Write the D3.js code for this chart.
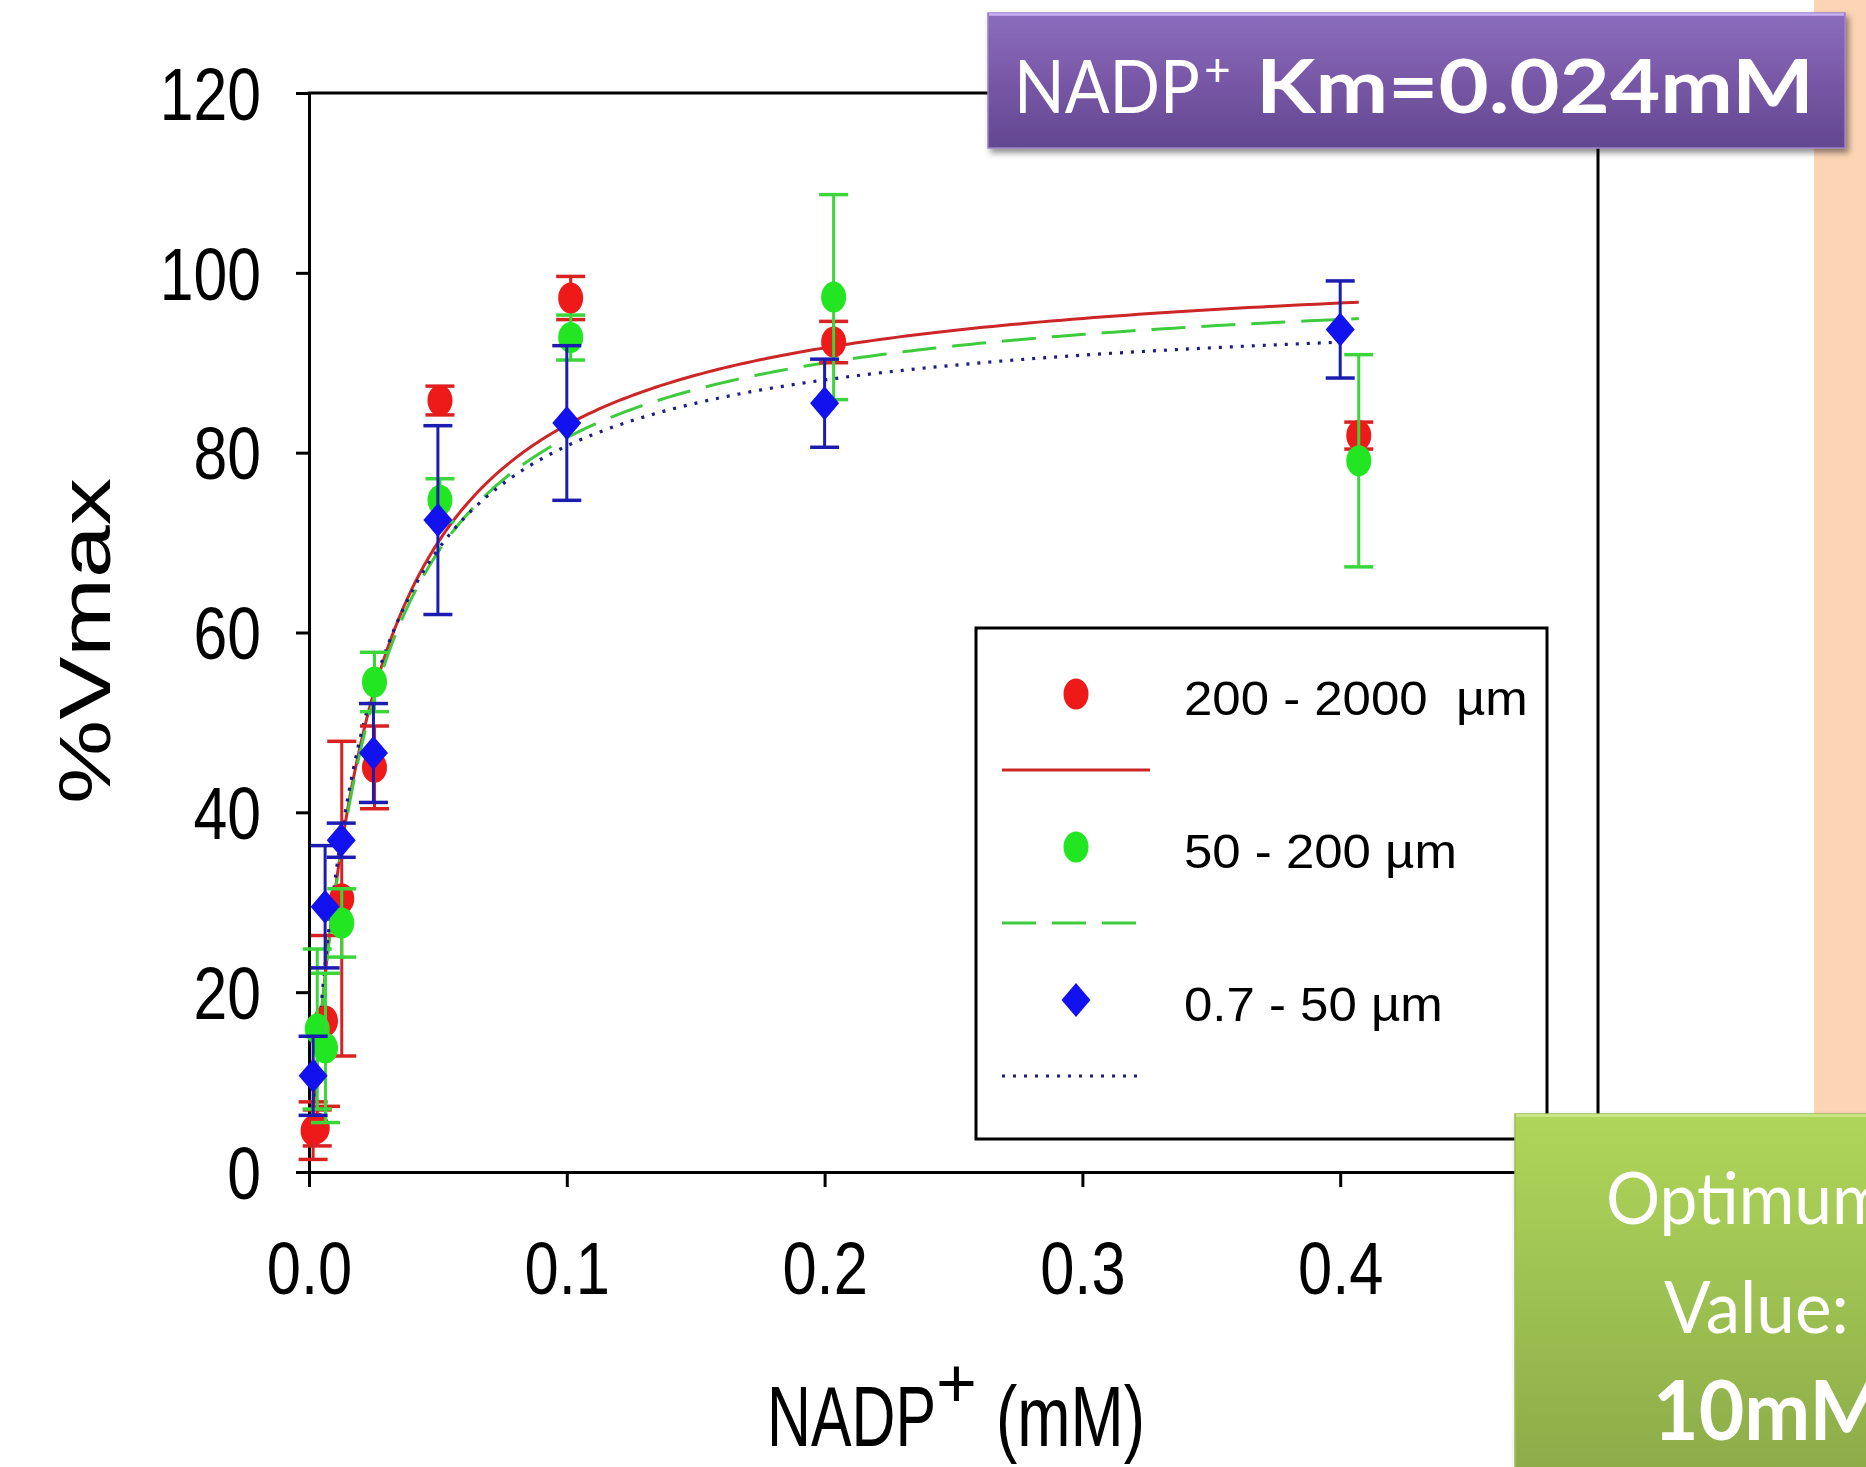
<!DOCTYPE html>
<html>
<head>
<meta charset="utf-8">
<script src="https://cdn.jsdelivr.net/npm/d3@7"></script>
<style>
  html, body { margin: 0; padding: 0; background: #ffffff; }
  svg { display: block; }
</style>
</head>
<body>
<svg id="chart" width="1866" height="1467"></svg>
<script>
// NADP+ saturation curves: % of Vmax against NADP+ concentration (mM)
// for three particle-size fractions, with SE bars and Michaelis-Menten fits.

const seriesNames = ["200 - 2000  \u00b5m", "50 - 200 \u00b5m", "0.7 - 50 \u00b5m"];

// 200 - 2000 µm
const redConc = [0.0016, 0.0032, 0.0064, 0.0127, 0.0254, 0.0508, 0.1015, 0.2035, 0.4072];
const redVmax = [4.6, 4.9, 16.8, 30.4, 45.0, 85.8, 97.2, 92.3, 81.9];
const redErr  = [3.2, 2.0, 9.5, 17.5, 4.6, 1.6, 2.4, 2.3, 1.5];

// 50 - 200 µm
const greenConc = [0.0032, 0.0064, 0.0127, 0.0254, 0.0508, 0.1015, 0.2035, 0.4072];
const greenVmax = [15.9, 13.8, 27.7, 54.5, 74.7, 92.8, 97.3, 79.1];
const greenErr  = [8.9, 8.3, 3.8, 3.3, 2.4, 2.5, 11.4, 11.8];

// 0.7 - 50 µm
const blueConc = [0.0016, 0.00625, 0.0125, 0.025, 0.05, 0.1, 0.2, 0.4];
const blueVmax = [10.7, 29.5, 36.9, 46.6, 72.5, 83.3, 85.5, 93.7];
const blueErr  = [4.4, 6.8, 1.9, 5.5, 10.5, 8.6, 4.9, 5.4];

// Michaelis-Menten fit parameters per fraction (Vmax in %, Km in mM)
const fitVmax = [102.2, 100.2, 96.9];
const fitKm   = [0.0230, 0.0227, 0.0200];

const xTicks = [0, 0.1, 0.2, 0.3, 0.4];
const yTicks = [0, 20, 40, 60, 80, 100, 120];

const markerColors = ["#ee1a1a", "#22e622", "#1212ee"];
const errColors    = ["#d82222", "#3ad63a", "#1c1cb0"];
const lineColors   = ["#cc2626", "#3ecc3e", "#1c1c84"];
const lineDash     = [null, "34,16", "3,8"];

const series = [
  { name: seriesNames[0], x: redConc,   y: redVmax,   e: redErr,   shape: "circle" },
  { name: seriesNames[1], x: greenConc, y: greenVmax, e: greenErr, shape: "circle" },
  { name: seriesNames[2], x: blueConc,  y: blueVmax,  e: blueErr,  shape: "diamond" }
];

const svg = d3.select("#chart");
const axisFont = "'Liberation Sans', Arial, sans-serif";
const boxFont = "Lato, 'Open Sans', sans-serif";

const plot = { left: 309, right: 1598, top: 93, bottom: 1172 };
const x = d3.scaleLinear().domain([0, 0.5]).range([plot.left, plot.right]);
const y = d3.scaleLinear().domain([0, 120]).range([plot.bottom, plot.top]);

// defs: gradients and shadow
const defs = svg.append("defs");
const purple = defs.append("linearGradient").attr("id", "purpleFill")
  .attr("x1", 0).attr("y1", 0).attr("x2", 0).attr("y2", 1);
purple.append("stop").attr("offset", "0%").attr("stop-color", "#8c6cbe");
purple.append("stop").attr("offset", "55%").attr("stop-color", "#7656a4");
purple.append("stop").attr("offset", "100%").attr("stop-color", "#634790");
const green = defs.append("linearGradient").attr("id", "greenFill")
  .attr("x1", 0).attr("y1", 0).attr("x2", 0).attr("y2", 1);
green.append("stop").attr("offset", "0%").attr("stop-color", "#afd65a");
green.append("stop").attr("offset", "100%").attr("stop-color", "#88a748");
const shadow = defs.append("filter").attr("id", "shadow")
  .attr("x", "-5%").attr("y", "-10%").attr("width", "115%").attr("height", "130%");
shadow.append("feDropShadow").attr("dx", 3).attr("dy", 4)
  .attr("stdDeviation", 3).attr("flood-color", "#000").attr("flood-opacity", 0.45);

// axes
const gx = svg.append("g")
  .attr("transform", `translate(0,${plot.bottom})`)
  .call(d3.axisBottom(x).tickValues(xTicks).tickFormat(d3.format(".1f"))
    .tickSize(15).tickSizeOuter(0));
const gy = svg.append("g")
  .attr("transform", `translate(${plot.left},0)`)
  .call(d3.axisLeft(y).tickValues(yTicks).tickFormat(d3.format("d"))
    .tickSize(13).tickSizeOuter(0));

[gx, gy].forEach(g => {
  g.select(".domain").attr("stroke", "#000").attr("stroke-width", 3);
  g.selectAll(".tick line").attr("stroke", "#000").attr("stroke-width", 3);
  g.selectAll(".tick text")
    .attr("fill", "#000")
    .style("font-family", axisFont)
    .style("font-size", "74px");
});
gx.selectAll(".tick text")
  .attr("y", 0).attr("dy", 0)
  .attr("text-anchor", "middle")
  .attr("transform", "translate(0,122) scale(0.83,1)");
gy.selectAll(".tick text")
  .attr("x", 0).attr("dy", "0.355em")
  .attr("text-anchor", "end")
  .attr("transform", "translate(-48,0) scale(0.82,1)");

// frame: top and right edges
const frame = svg.append("g").attr("stroke", "#000").attr("stroke-width", 3)
  .attr("stroke-linecap", "square");
frame.append("line").attr("x1", x(0)).attr("x2", x(0.5)).attr("y1", y(120)).attr("y2", y(120));
frame.append("line").attr("x1", x(0.5)).attr("x2", x(0.5)).attr("y1", y(120)).attr("y2", y(0));

// fitted curves
const curveLine = d3.line().x(d => x(d[0])).y(d => y(d[1]));
series.forEach((s, i) => {
  const x0 = d3.min(s.x), x1 = d3.max(s.x);
  const pts = d3.range(0, 401).map(k => {
    const c = x0 * Math.pow(x1 / x0, k / 400);
    return [c, fitVmax[i] * c / (fitKm[i] + c)];
  });
  svg.append("path")
    .attr("d", curveLine(pts))
    .attr("fill", "none")
    .attr("stroke", lineColors[i])
    .attr("stroke-width", i === 2 ? 3.2 : 3)
    .attr("stroke-dasharray", lineDash[i]);
});

// error bars and markers
const capHalf = 14.5;
function drawMarker(g, shape, cx, cy, color) {
  if (shape === "circle") {
    g.append("ellipse").attr("cx", cx).attr("cy", cy).attr("rx", 12.5).attr("ry", 15.5)
      .attr("fill", color);
  } else {
    g.append("path")
      .attr("d", `M${cx},${cy - 17}L${cx + 14.5},${cy}L${cx},${cy + 17}L${cx - 14.5},${cy}Z`)
      .attr("fill", color);
  }
}
series.forEach((s, i) => {
  const g = svg.append("g");
  s.x.forEach((c, k) => {
    const px = x(c), lo = y(s.y[k] - s.e[k]), hi = y(s.y[k] + s.e[k]);
    const eg = g.append("g").attr("stroke", errColors[i]);
    eg.append("line").attr("x1", px).attr("x2", px).attr("y1", lo).attr("y2", hi)
      .attr("stroke-width", 3);
    eg.append("line").attr("x1", px - capHalf).attr("x2", px + capHalf).attr("y1", lo).attr("y2", lo)
      .attr("stroke-width", 3.5);
    eg.append("line").attr("x1", px - capHalf).attr("x2", px + capHalf).attr("y1", hi).attr("y2", hi)
      .attr("stroke-width", 3.5);
    drawMarker(g, s.shape, px, y(s.y[k]), markerColors[i]);
  });
});

// text helper: places a string with a horizontal squeeze to a target advance width
function fittedText(parent, str, px, py, opts) {
  const g = parent.append("g");
  const t = g.append("text")
    .attr("x", 0).attr("y", 0)
    .style("font-family", opts.family)
    .style("font-size", opts.size + "px")
    .style("font-weight", opts.weight || "normal")
    .style("white-space", "pre")
    .attr("fill", opts.fill || "#000")
    .attr("text-anchor", opts.anchor || "start")
    .text(str);
  let sx = opts.sx || 1;
  if (opts.width) sx = opts.width / t.node().getComputedTextLength();
  g.attr("transform", `translate(${px},${py}) rotate(${opts.rotate || 0}) scale(${sx},1)`);
  return g;
}

// legend
const legend = svg.append("g");
legend.append("rect").attr("x", 976).attr("y", 628).attr("width", 571).attr("height", 511)
  .attr("fill", "#fff").attr("stroke", "#000").attr("stroke-width", 3);
series.forEach((s, i) => {
  const cy = 694 + i * 153;
  drawMarker(legend, s.shape, 1076, cy, markerColors[i]);
  fittedText(legend, s.name, 1184, cy + 21, { family: axisFont, size: 49, sx: 1.04 });
  const ly = cy + 76;
  legend.append("line")
    .attr("x1", 1002).attr("x2", i === 0 ? 1150 : (i === 1 ? 1136 : 1141))
    .attr("y1", ly).attr("y2", ly)
    .attr("stroke", lineColors[i])
    .attr("stroke-width", i === 2 ? 3.2 : 3)
    .attr("stroke-dasharray", lineDash[i]);
});

// axis titles
fittedText(svg, "NADP", 767, 1446, { family: axisFont, size: 85, width: 169 });
fittedText(svg, "+", 936, 1407, { family: axisFont, size: 70 });
fittedText(svg, "(mM)", 996, 1446, { family: axisFont, size: 85, width: 149 });
fittedText(svg, "%Vmax", 110, 641, { family: axisFont, size: 73, width: 326, anchor: "middle", rotate: -90 });

// side panel strip
svg.append("rect").attr("x", 1814).attr("y", 0).attr("width", 52).attr("height", 1467)
  .attr("fill", "#fcd5b5");

// Km banner
const banner = svg.append("g");
banner.append("rect").attr("x", 988).attr("y", 13).attr("width", 857).attr("height", 135)
  .attr("fill", "url(#purpleFill)").attr("stroke", "#9a80c8").attr("stroke-width", 1.5)
  .attr("filter", "url(#shadow)");
banner.append("line").attr("x1", 989).attr("x2", 1844).attr("y1", 14.5).attr("y2", 14.5)
  .attr("stroke", "#c8b0f2").attr("stroke-width", 2.5);
fittedText(banner, "NADP", 1014, 113, { family: boxFont, size: 74, width: 186, fill: "#fff" });
fittedText(banner, "+", 1204, 86, { family: boxFont, size: 46, fill: "#fff" });
fittedText(banner, "Km=0.024mM", 1256, 113, { family: boxFont, size: 74, weight: "bold", width: 558, fill: "#fff" });

// optimum box
const opt = svg.append("g");
opt.append("rect").attr("x", 1515).attr("y", 1114).attr("width", 420).attr("height", 400)
  .attr("fill", "url(#greenFill)").attr("stroke", "#9cbd58").attr("stroke-width", 1.5)
  .attr("filter", "url(#shadow)");
opt.append("line").attr("x1", 1516).attr("x2", 1866).attr("y1", 1115.5).attr("y2", 1115.5)
  .attr("stroke", "#cfe98e").attr("stroke-width", 2.5);
fittedText(opt, "Optimum", 1606, 1224, { family: boxFont, size: 72, fill: "#fff", sx: 0.94 });
fittedText(opt, "Value:", 1664, 1333, { family: boxFont, size: 72, fill: "#fff", sx: 0.96 });
fittedText(opt, "10mM", 1653, 1440, { family: boxFont, size: 82, weight: "bold", fill: "#fff", sx: 0.96 });
</script>
</body>
</html>
